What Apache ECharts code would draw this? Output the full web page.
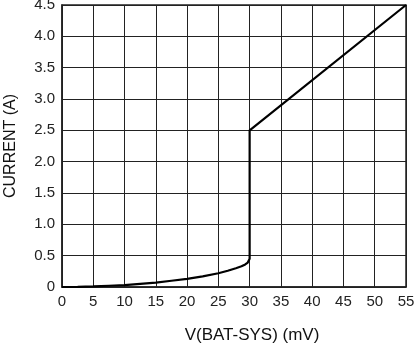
<!DOCTYPE html>
<html>
<head>
<meta charset="utf-8">
<script src="https://cdn.jsdelivr.net/npm/echarts@6/dist/echarts.min.js"></script>
<style>html,body{margin:0;padding:0;background:#fff;}#c{width:415px;height:343px;}</style>
</head>
<body>
<div id="c"></div>
<script>
const vBatSys = [0, 2.5, 5, 7.5, 10, 12.5, 15, 17.5, 20, 22.5, 25, 26.5, 27.8, 28.7, 29.3, 29.7, 29.9, 30, 30, 55];
const current = [0, 0.003, 0.01, 0.02, 0.03, 0.05, 0.07, 0.1, 0.13, 0.17, 0.22, 0.26, 0.3, 0.33, 0.36, 0.39, 0.42, 0.45, 2.5, 4.5];
const xTitle = 'V(BAT-SYS) (mV)';
const yTitle = 'CURRENT (A)';

const chart = echarts.init(document.getElementById('c'), null, {renderer: 'canvas'});
const font = 'Liberation Sans, Arial, sans-serif';
chart.setOption({
  animation: false,
  backgroundColor: '#fff',
  grid: {left: 62, right: 9, top: 5, bottom: 56, containLabel: false, outerBoundsMode: 'none',
    show: true, borderColor: '#222', borderWidth: 1.5, backgroundColor: 'transparent'},
  xAxis: {
    type: 'value', min: 0, max: 55, interval: 5,
    name: xTitle, nameLocation: 'middle', nameGap: 40,
    nameTextStyle: {fontFamily: font, fontSize: 17, color: '#111', padding: [0, 0, 0, 36]},
    axisLine: {show: true, lineStyle: {color: '#222', width: 1.5}},
    axisTick: {show: false},
    axisLabel: {fontFamily: font, fontSize: 15, color: '#222', margin: 7},
    splitLine: {show: true, lineStyle: {color: '#222', width: 1}}
  },
  yAxis: {
    type: 'value', min: 0, max: 4.5, interval: 0.5,
    name: yTitle, nameLocation: 'middle', nameGap: 43,
    nameTextStyle: {fontFamily: font, fontSize: 16, color: '#111'},
    axisLine: {show: true, lineStyle: {color: '#222', width: 1.5}},
    axisTick: {show: false},
    axisLabel: {fontFamily: font, fontSize: 15, color: '#222', margin: 7,
      formatter: v => v === 0 ? '0' : v.toFixed(1)},
    splitLine: {show: true, lineStyle: {color: '#222', width: 1}}
  },
  series: [{
    type: 'line',
    data: vBatSys.map((x, i) => [x, current[i]]),
    showSymbol: false,
    smooth: false,
    lineStyle: {color: '#000', width: 2.2},
    z: 5
  }]
});
</script>
</body>
</html>
